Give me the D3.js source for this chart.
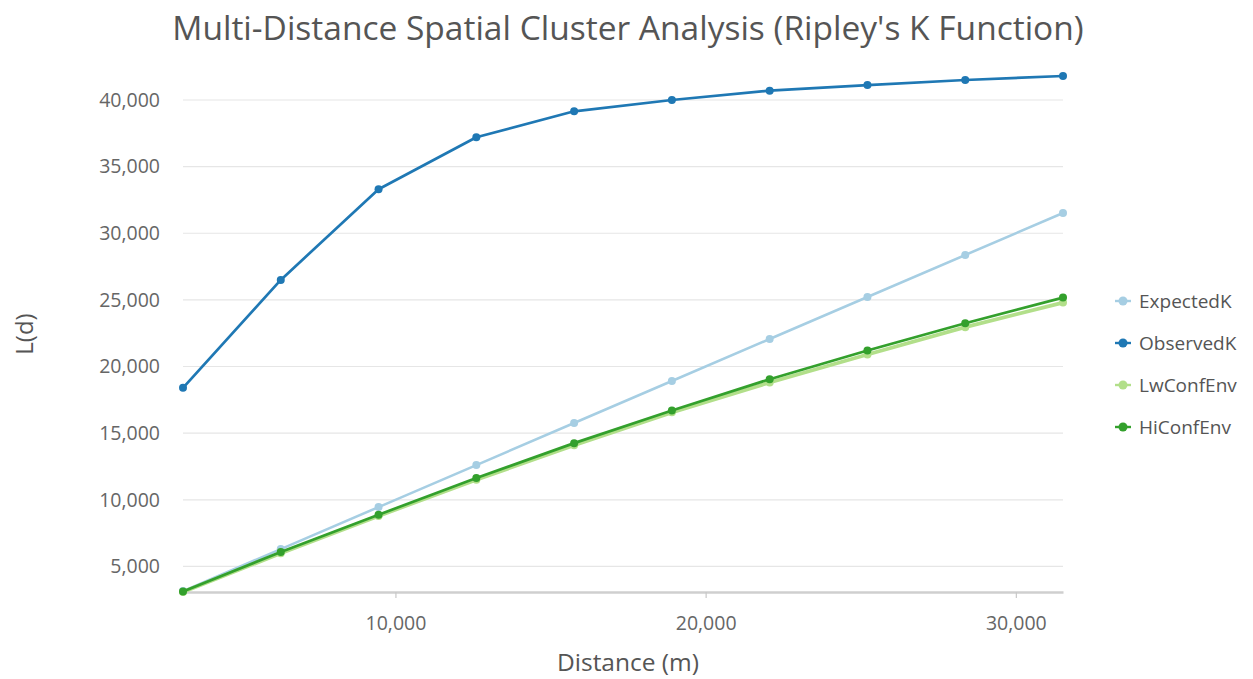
<!DOCTYPE html>
<html>
<head>
<meta charset="utf-8">
<script src="https://cdn.jsdelivr.net/npm/d3@7"></script>
<style>
  html, body { margin: 0; padding: 0; background: #fff; }
  svg { display: block; font-family: "Open Sans", "Noto Sans", sans-serif; }
</style>
</head>
<body>
<svg id="chart" width="1253" height="679"></svg>
<script>
// Distance bands (m) at which L(d) was evaluated
const distances = [3152, 6304, 9456, 12608, 15760, 18912, 22064, 25216, 28368, 31520];
// L(d) values per series
const expectedK  = [3152, 6304, 9456, 12608, 15760, 18912, 22064, 25216, 28368, 31520];
const observedK  = [18400, 26500, 33300, 37200, 39150, 40000, 40700, 41120, 41500, 41800];
const lwConfEnv  = [3080, 5990, 8790, 11500, 14100, 16560, 18800, 20900, 22950, 24800];
const hiConfEnv  = [3120, 6080, 8880, 11630, 14250, 16700, 19050, 21200, 23250, 25170];

const seriesNames  = ["ExpectedK", "ObservedK", "LwConfEnv", "HiConfEnv"];
const seriesValues = [expectedK, observedK, lwConfEnv, hiConfEnv];
const seriesColors = ["#a6cee3", "#1f78b4", "#b2df8a", "#33a02c"];
const seriesWidths = [2.5, 2.7, 3.8, 2.7];

const xTicks = [10000, 20000, 30000];
const yTicks = [5000, 10000, 15000, 20000, 25000, 30000, 35000, 40000];

const titleText = "Multi-Distance Spatial Cluster Analysis (Ripley's K Function)";
const xTitle = "Distance (m)";
const yTitle = "L(d)";

const svg = d3.select("#chart");
const plot = { left: 183, right: 1063, top: 76, bottom: 592 };

const allVals = seriesValues.flat();
const x = d3.scaleLinear().domain(d3.extent(distances)).range([plot.left, plot.right]);
const y = d3.scaleLinear().domain(d3.extent(allVals)).range([plot.bottom, plot.top]);

const fmt = d3.format(",");

// horizontal grid lines
svg.append("g")
  .selectAll("line")
  .data(yTicks)
  .join("line")
  .attr("x1", plot.left).attr("x2", plot.right)
  .attr("y1", d => y(d)).attr("y2", d => y(d))
  .attr("stroke", "#e6e6e6").attr("stroke-width", 1.2);

// y axis labels
const yAxis = svg.append("g")
  .attr("transform", `translate(${plot.left},0)`)
  .call(d3.axisLeft(y).tickValues(yTicks).tickFormat(fmt).tickSize(0).tickPadding(23));
yAxis.select(".domain").remove();
yAxis.selectAll("text")
  .attr("fill", "#666").style("font-size", "19.5px")
  .attr("font-family", "Open Sans, Noto Sans, sans-serif");

// x axis
const xAxis = svg.append("g")
  .attr("transform", `translate(0,${plot.bottom})`)
  .call(d3.axisBottom(x).tickValues(xTicks).tickFormat(fmt).tickSize(6).tickSizeOuter(0).tickPadding(18));
xAxis.select(".domain").attr("stroke", "#cfcfcf").attr("stroke-width", 2.4);
xAxis.selectAll(".tick line").attr("stroke", "#c8c8c8").attr("stroke-width", 1.2);
xAxis.selectAll("text")
  .attr("fill", "#666").style("font-size", "19.5px")
  .attr("font-family", "Open Sans, Noto Sans, sans-serif");

// series lines and points
const line = d3.line().x((d, i) => x(distances[i])).y(d => y(d));
seriesValues.forEach((vals, s) => {
  const g = svg.append("g");
  g.append("path")
    .datum(vals)
    .attr("d", line)
    .attr("fill", "none")
    .attr("stroke", seriesColors[s])
    .attr("stroke-width", seriesWidths[s])
    .attr("stroke-linejoin", "round");
  g.selectAll("circle")
    .data(vals)
    .join("circle")
    .attr("cx", (d, i) => x(distances[i]))
    .attr("cy", d => y(d))
    .attr("r", 4)
    .attr("fill", seriesColors[s]);
});

// title
svg.append("text")
  .attr("x", 628).attr("y", 40)
  .attr("text-anchor", "middle")
  .attr("fill", "#555")
  .style("font-size", "33.5px")
  .text(titleText);

// axis titles
svg.append("text")
  .attr("x", 628).attr("y", 671)
  .attr("text-anchor", "middle")
  .attr("fill", "#555")
  .style("font-size", "24.5px")
  .text(xTitle);

svg.append("text")
  .attr("transform", "translate(33,334) rotate(-90)")
  .attr("text-anchor", "middle")
  .attr("fill", "#555")
  .style("font-size", "24px")
  .text(yTitle);

// legend
const legend = svg.append("g").attr("transform", "translate(1123,301)");
const items = legend.selectAll("g")
  .data(seriesNames)
  .join("g")
  .attr("transform", (d, i) => `translate(0,${i * 42})`);
items.append("line")
  .attr("x1", -8).attr("x2", 8)
  .attr("stroke", (d, i) => seriesColors[i]).attr("stroke-width", 2.4);
items.append("circle")
  .attr("r", 4.5)
  .attr("fill", (d, i) => seriesColors[i]);
items.append("text")
  .attr("x", 16).attr("dy", "0.35em")
  .attr("fill", "#555")
  .style("font-size", "19px")
  .text(d => d);
</script>
</body>
</html>
